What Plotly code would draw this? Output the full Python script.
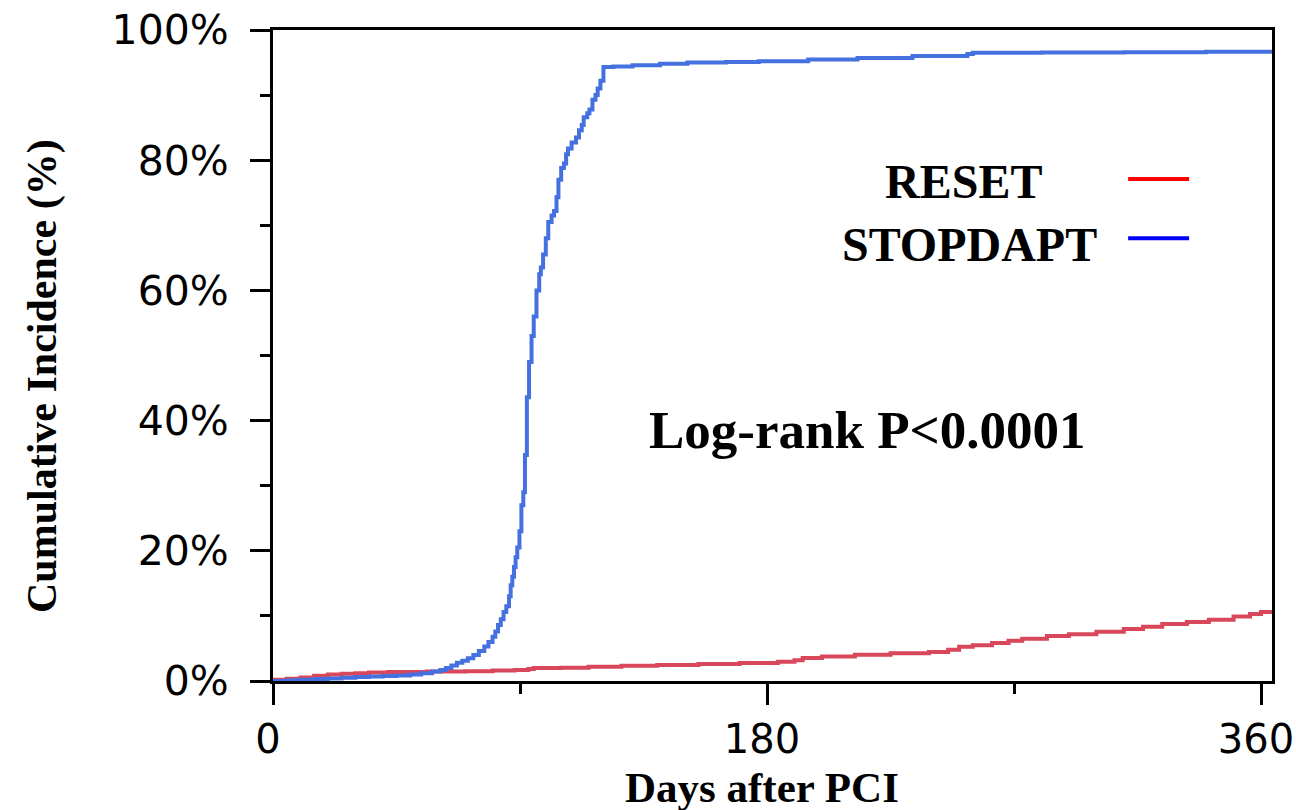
import plotly.graph_objects as go

# ---- data ----
stop_days = [0, 5, 10, 15, 20, 25, 30, 35, 40, 45, 50, 54, 58, 61, 63, 65, 67, 69, 71, 73, 75, 77,
             78.5, 80, 81, 82, 83, 84, 85, 86, 86.6, 87.2, 87.8, 88.4, 89, 89.8, 90.5, 91.2, 91.8,
             92.5, 93.3, 94.2, 95, 96, 97, 97.6, 98.4, 99.4, 100.3, 101.5, 102.4, 103.3, 104, 105,
             106, 106.8, 107.5, 108.8, 110.4, 111.5, 112.5, 113.2, 114.5, 115.3, 116.4, 117.5,
             118.3, 119.3, 120.4, 124, 131, 141, 151, 165, 177, 195, 213, 233, 253, 255, 280, 310,
             340, 364]
stop_pct = [0, 0.1, 0.2, 0.3, 0.4, 0.5, 0.6, 0.7, 0.75, 0.85, 1.0, 1.2, 1.45, 1.7, 2.0, 2.4, 2.8,
            3.1, 3.5, 4.0, 4.6, 5.3, 6.0, 6.8, 7.6, 8.6, 9.5, 10.6, 11.5, 13.0, 14.7, 16.0, 17.5,
            19.0, 20.5, 23.0, 27.0, 29.0, 34.7, 43.6, 49.0, 53.0, 56, 60, 62.5, 63.5, 65.5, 68,
            70.5, 71.5, 72.2, 74.3, 77, 78.8, 79.5, 80.9, 81.8, 82.7, 83.5, 84.6, 85.4, 86.6, 87.2,
            87.8, 89.3, 90.0, 91.0, 92.2, 94.3, 94.4, 94.6, 94.8, 95.0, 95.1, 95.2, 95.45, 95.7,
            96.0, 96.3, 96.5, 96.55, 96.6, 96.65, 96.7]

reset_days = [0, 5, 10, 15, 20, 25, 30, 35, 42, 56, 70, 80, 88, 93, 95, 105, 115, 127, 140, 155,
              170, 184, 190, 193, 200, 212, 225, 239, 246, 250, 255, 262, 268, 273, 282, 290, 300,
              310, 317, 324, 333, 341, 350, 356, 360, 364]
reset_pct = [0.2, 0.35, 0.55, 0.8, 1.0, 1.1, 1.2, 1.3, 1.4, 1.45, 1.5, 1.6, 1.7, 1.85, 2.0, 2.05,
             2.2, 2.35, 2.45, 2.6, 2.75, 2.95, 3.2, 3.55, 3.75, 4.05, 4.25, 4.45, 4.8, 5.25, 5.5,
             5.85, 6.2, 6.5, 6.9, 7.2, 7.55, 8.0, 8.35, 8.75, 9.05, 9.4, 9.9, 10.3, 10.6, 10.75]

series_names = ["RESET", "STOPDAPT"]
x_tickvals = [0, 180, 360]
y_tickvals = [0, 20, 40, 60, 80, 100]
y_ticktext = ["0%", "20%", "40%", "60%", "80%", "100%"]

fig = go.Figure()
fig.add_trace(go.Scatter(x=reset_days, y=reset_pct, mode="lines", line_shape="hv",
                         line=dict(color="#D9475A", width=4), name=series_names[0],
                         showlegend=False))
fig.add_trace(go.Scatter(x=stop_days, y=stop_pct, mode="lines", line_shape="hv",
                         line=dict(color="#4470E0", width=4), name=series_names[1],
                         showlegend=False))

serif_b = "Liberation Serif"

fig.update_layout(
    width=1296, height=810,
    margin=dict(l=273, r=24, t=30, b=129),
    plot_bgcolor="white", paper_bgcolor="white",
    xaxis=dict(range=[0, 364], tickvals=x_tickvals, ticks="outside", ticklen=21, tickwidth=3,
               tickcolor="black", showline=True, linewidth=3, linecolor="black", mirror=True,
               showgrid=False, zeroline=False,
               tickfont=dict(family="DejaVu Sans", size=40, color="black"),
               ticklabelstandoff=0, ticklabelshift=-5,
               ticklabeloverflow="allow", automargin=False,
               minor=dict(tickvals=[90, 270], ticks="outside", ticklen=10, tickwidth=3,
                          tickcolor="black", showgrid=False)),
    yaxis=dict(range=[0, 100], tickvals=y_tickvals, ticktext=y_ticktext, ticks="outside",
               ticklen=20, tickwidth=3, tickcolor="black", showline=True, linewidth=3,
               linecolor="black", mirror=True, showgrid=False, zeroline=False,
               tickfont=dict(family="DejaVu Sans", size=41, color="black"),
               ticklabelstandoff=13, ticklabeloverflow="allow", automargin=False,
               minor=dict(tickvals=[10, 30, 50, 70, 90], ticks="outside", ticklen=10, tickwidth=3,
                          tickcolor="black", showgrid=False)),
)

# axis titles as annotations for exact placement
fig.add_annotation(x=(762 - 273) / 999, y=-(787 - 681) / 651, xref="paper", yref="paper",
                   text="<b>Days after PCI</b>", showarrow=False, xanchor="center", yanchor="middle",
                   font=dict(family=serif_b, size=43, color="black"))
fig.add_annotation(x=-(273 - 42) / 999, y=(681 - 376) / 651, xref="paper", yref="paper",
                   text="<b>Cumulative Incidence (%)</b>", showarrow=False, textangle=-90,
                   xanchor="center", yanchor="middle",
                   font=dict(family=serif_b, size=42, color="black"))

# legend text and samples (drawn manually like the reference)
legend_items = [("RESET", "#FF0000", 0.691, 0.767, 0.771),
                ("STOPDAPT", "#0000FF", 0.697, 0.671, 0.680)]
for name, col, xx, ty, ly in legend_items:
    fig.add_annotation(x=xx, y=ty, xref="paper", yref="paper", text="<b>%s</b>" % name,
                       showarrow=False, xanchor="center", yanchor="middle",
                       font=dict(family=serif_b, size=48, color="black"))
    fig.add_shape(type="line", xref="paper", yref="paper", x0=0.856, x1=0.917, y0=ly, y1=ly,
                  line=dict(color=col, width=4))

fig.add_annotation(x=0.595, y=0.385, xref="paper", yref="paper", text="<b>Log-rank P&lt;0.0001</b>",
                   showarrow=False, xanchor="center", yanchor="middle",
                   font=dict(family=serif_b, size=53, color="black"))

fig.write_html("out.html")
